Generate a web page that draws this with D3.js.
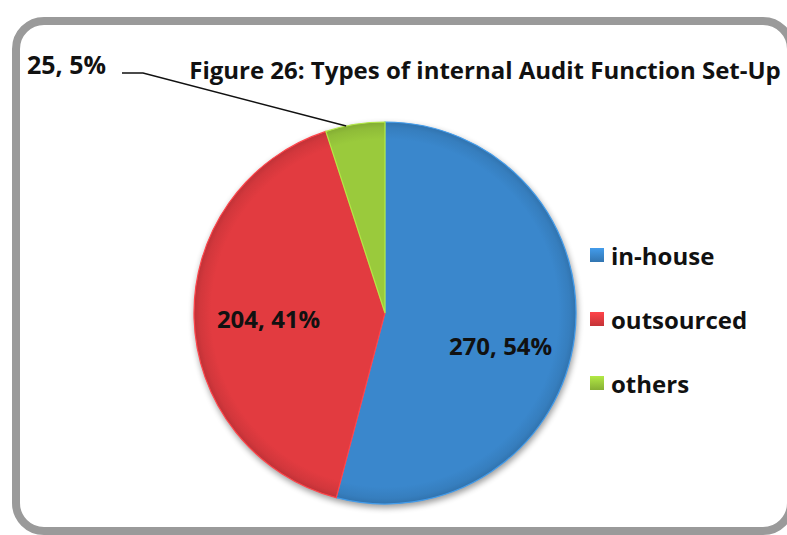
<!DOCTYPE html>
<html>
<head>
<meta charset="utf-8">
<script src="https://cdn.jsdelivr.net/npm/d3@7"></script>
<style>
  html, body { margin: 0; padding: 0; background: #fff; }
  svg { display: block; }
  text { font-family: "Open Sans", Lato, sans-serif; font-weight: bold; fill: #111; }
</style>
</head>
<body>
<svg id="chart" width="787" height="535"></svg>
<script>
// Survey counts by type of internal audit set-up
const categories = ["in-house", "outsourced", "others"];
const counts = [270, 204, 25];
const percents = [54, 41, 5];
const colors = ["#3a87cc", "#e23b40", "#9aca3c"];
const title = "Figure 26: Types of internal Audit Function Set-Up";

const svg = d3.select("#chart");
const defs = svg.append("defs");

// Frame: rounded grey border
svg.append("rect")
  .attr("x", 16).attr("y", 21)
  .attr("width", 775).attr("height", 510)
  .attr("rx", 28).attr("ry", 28)
  .attr("fill", "#fff")
  .attr("stroke", "#9a9a9a")
  .attr("stroke-width", 8);

// Title
svg.append("text")
  .attr("x", 485).attr("y", 79)
  .attr("text-anchor", "middle")
  .style("font-size", "24px")
  .text(title);

// Pie geometry
const cx = 385, cy = 313, r = 191;
const pie = d3.pie().sort(null).value(d => d.count);
const data = categories.map((c, i) => ({ cat: c, count: counts[i], pct: percents[i], color: colors[i] }));
const arcs = pie(data);
const arc = d3.arc().innerRadius(0).outerRadius(r);

// Soft drop shadow under the pie
const shadow = defs.append("filter").attr("id", "shadow")
  .attr("color-interpolation-filters", "sRGB")
  .attr("x", "-20%").attr("y", "-20%").attr("width", "140%").attr("height", "140%");
shadow.append("feGaussianBlur").attr("in", "SourceAlpha").attr("stdDeviation", 3);
shadow.append("feOffset").attr("dx", 1).attr("dy", 3);
shadow.append("feComponentTransfer").append("feFuncA").attr("type", "linear").attr("slope", 0.4);
const merge = shadow.append("feMerge");
merge.append("feMergeNode");
merge.append("feMergeNode").attr("in", "SourceGraphic");

// Radial shading per slice (in the pie group's local space): flat body, darker rim
data.forEach((d, i) => {
  const g = defs.append("radialGradient").attr("id", "grad" + i)
    .attr("gradientUnits", "userSpaceOnUse")
    .attr("cx", 0).attr("cy", 0).attr("r", r);
  const base = d3.color(d.color);
  g.append("stop").attr("offset", "0%").attr("stop-color", base.formatHex());
  g.append("stop").attr("offset", "91%").attr("stop-color", base.formatHex());
  g.append("stop").attr("offset", "97%").attr("stop-color", base.darker(0.2).formatHex());
  g.append("stop").attr("offset", "100%").attr("stop-color", base.darker(0.45).formatHex());
});

const pieG = svg.append("g")
  .attr("transform", `translate(${cx},${cy})`)
  .attr("filter", "url(#shadow)");

pieG.selectAll("path")
  .data(arcs)
  .join("path")
  .attr("d", arc)
  .attr("fill", (d, i) => `url(#grad${i})`)
  .attr("stroke", d => d3.color(d.data.color).brighter(0.4).formatHex())
  .attr("stroke-width", 1.2);

// Inside labels for the two large slices
const labelArc = d3.arc().innerRadius(r * 0.6).outerRadius(r * 0.62);
const labelNudge = { "in-house": 15, "outsourced": 0 };
svg.append("g")
  .attr("transform", `translate(${cx},${cy})`)
  .selectAll("text")
  .data(arcs.filter(d => d.data.pct >= 10))
  .join("text")
  .attr("transform", d => {
    const [x, y] = labelArc.centroid(d);
    return `translate(${x},${y + 12 + labelNudge[d.data.cat]})`;
  })
  .attr("text-anchor", "middle")
  .style("font-size", "24px")
  .text(d => `${d.data.count}, ${d.data.pct}%`);

// Outside label with leader line for the small slice
const small = arcs[2];
const midA = small.startAngle + (small.endAngle - small.startAngle) * 0.35;
const edge = [cx + Math.sin(midA) * r, cy - Math.cos(midA) * r];
svg.append("polyline")
  .attr("points", [[122, 73], [143, 73], edge].map(p => p.join(",")).join(" "))
  .attr("fill", "none")
  .attr("stroke", "#111")
  .attr("stroke-width", 1.5);
svg.append("text")
  .attr("x", 27).attr("y", 74)
  .style("font-size", "25px")
  .text(`${small.data.count}, ${small.data.pct}%`);

// Legend
const legend = svg.append("g").attr("transform", "translate(590,248)");
const rowH = 64;
data.forEach((d, i) => {
  const lg = defs.append("linearGradient").attr("id", "lg" + i)
    .attr("x1", 0).attr("y1", 0).attr("x2", 0).attr("y2", 1);
  lg.append("stop").attr("offset", "0%").attr("stop-color", d3.color(d.color).brighter(0.4).formatHex());
  lg.append("stop").attr("offset", "100%").attr("stop-color", d3.color(d.color).darker(0.4).formatHex());
  const row = legend.append("g").attr("transform", `translate(0,${i * rowH})`);
  row.append("rect")
    .attr("x", 0).attr("y", 0).attr("width", 14).attr("height", 14)
    .attr("fill", `url(#lg${i})`);
  row.append("text")
    .attr("x", 21).attr("y", 17)
    .style("font-size", "24px")
    .text(d.cat);
});
</script>
</body>
</html>
